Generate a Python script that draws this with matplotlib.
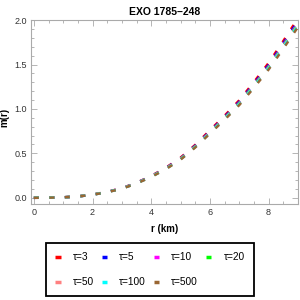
import matplotlib
matplotlib.use("Agg")
import matplotlib.pyplot as plt
from matplotlib.ticker import MultipleLocator
from matplotlib.lines import Line2D

plt.rcParams['font.family'] = ['Liberation Sans', 'DejaVu Sans']

# radius (km)
r = [0, 0.5, 1, 1.5, 2, 2.5, 3, 3.5, 4, 4.5, 5, 5.5, 6, 6.5, 7, 7.5, 8, 8.5, 9]

# mass m(r) for each tau
m_tau3 = [0, 0.001, 0.005, 0.015, 0.036, 0.067, 0.108, 0.169, 0.246, 0.338, 0.451, 0.595, 0.759, 0.923, 1.097, 1.302, 1.517, 1.763, 2.019]
m_tau5 = [0, 0.001, 0.005, 0.015, 0.035, 0.066, 0.106, 0.167, 0.242, 0.333, 0.444, 0.586, 0.747, 0.909, 1.081, 1.283, 1.495, 1.737, 1.990]
m_tau10 = [0, 0.001, 0.005, 0.015, 0.035, 0.065, 0.105, 0.165, 0.240, 0.330, 0.440, 0.580, 0.740, 0.900, 1.070, 1.270, 1.480, 1.720, 1.970]
m_tau20 = [0, 0.001, 0.005, 0.015, 0.035, 0.065, 0.104, 0.164, 0.239, 0.328, 0.438, 0.577, 0.736, 0.896, 1.065, 1.264, 1.473, 1.711, 1.960]
m_tau50 = [0, 0.001, 0.005, 0.015, 0.035, 0.064, 0.104, 0.163, 0.238, 0.327, 0.436, 0.574, 0.733, 0.891, 1.059, 1.257, 1.465, 1.703, 1.950]
m_tau100 = [0, 0.001, 0.005, 0.015, 0.034, 0.064, 0.103, 0.163, 0.236, 0.325, 0.433, 0.571, 0.729, 0.887, 1.054, 1.251, 1.458, 1.694, 1.940]
m_tau500 = [0, 0.001, 0.005, 0.015, 0.034, 0.063, 0.102, 0.161, 0.234, 0.322, 0.429, 0.566, 0.722, 0.878, 1.043, 1.238, 1.443, 1.677, 1.921]

series = [m_tau3, m_tau5, m_tau10, m_tau20, m_tau50, m_tau100, m_tau500]
labels = ["τ=3", "τ=5", "τ=10", "τ=20", "τ=50", "τ=100", "τ=500"]
colors = ["#ff0000", "#0000ff", "#ff00ff", "#00ff00", "#ff8080", "#00ffff", "#996633"]

fig = plt.figure(figsize=(3, 3), dpi=100)
ax = fig.add_axes([0.103, 0.32, 0.89, 0.613])

for y, c in zip(series, colors):
    ax.plot(r, y, color=c, lw=1.8, dashes=(2.0, 4.2), dash_capstyle='butt')

ax.set_xlim(-0.1, 9.0)
ax.set_ylim(-0.07, 2.0)
ax.xaxis.set_major_locator(MultipleLocator(2))
ax.xaxis.set_minor_locator(MultipleLocator(0.5))
ax.yaxis.set_major_locator(MultipleLocator(0.5))
ax.yaxis.set_minor_locator(MultipleLocator(0.1))
ax.yaxis.set_major_formatter(plt.FuncFormatter(lambda v, p: f"{v:.1f}"))

ax.tick_params(which='both', direction='in', top=True, right=True, color='#aaaaaa',
               labelsize=6.5, labelcolor='#333333', width=0.6)
ax.tick_params(which='major', length=4, pad=3)
ax.tick_params(which='minor', length=2)
for s in ax.spines.values():
    s.set_color('#aaaaaa')
    s.set_linewidth(0.8)

ax.set_title("EXO 1785\u2013248", fontsize=7.5, fontweight='bold', pad=4)
ax.set_xlabel("r (km)", fontsize=7, fontweight='bold', labelpad=5)
ax.set_ylabel("m(r)", fontsize=7, fontweight='bold')
ax.yaxis.set_label_coords(-0.079, 0.47)

handles = [Line2D([], [], color=c, lw=2.5, solid_capstyle='butt') for c in colors]
order = [0, 4, 1, 5, 2, 6, 3]
leg = fig.legend([handles[i] for i in order], [labels[i] for i in order],
                 loc='center', bbox_to_anchor=(0.5, 0.101), ncol=4,
                 fontsize=7.3, handlelength=0.5, handletextpad=1.2,
                 columnspacing=0.8, labelspacing=1.5, borderpad=0.9,
                 fancybox=False, edgecolor='black', framealpha=1)
leg.get_frame().set_linewidth(1.3)

fig.savefig("out.png", dpi=100)
